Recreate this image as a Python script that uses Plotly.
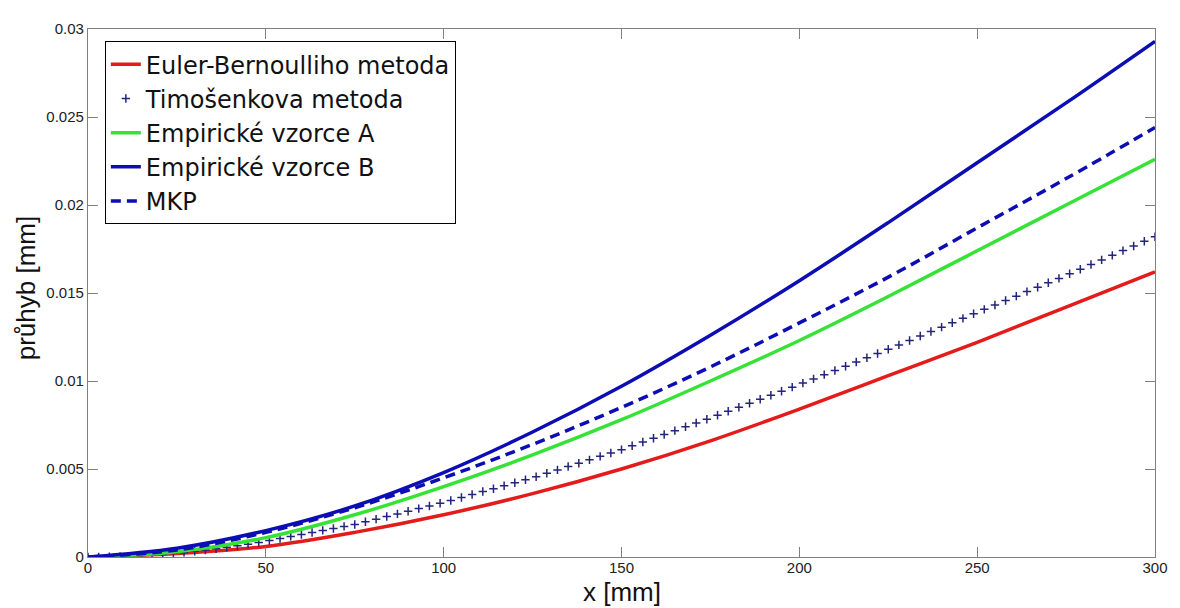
import plotly.graph_objects as go

# x positions (mm) for the line series
x_mm = [0, 25, 50, 75, 100, 125, 150, 175, 200, 225, 250, 275, 300]

euler = [0, 0.0002, 0.0006, 0.0014, 0.0024, 0.0036, 0.0050, 0.0066, 0.0084, 0.0103, 0.0122, 0.0142, 0.0162]
emp_a = [0, 0.0003, 0.0011, 0.0024, 0.0040, 0.0058, 0.0078, 0.0100, 0.0123, 0.0148, 0.0174, 0.0200, 0.0226]
emp_b = [0, 0.0005, 0.0015, 0.0029, 0.0048, 0.0071, 0.0097, 0.0126, 0.0157, 0.0190, 0.0224, 0.0258, 0.0293]
mkp = [0, 0.0004, 0.0014, 0.0028, 0.0045, 0.0064, 0.0085, 0.0108, 0.0133, 0.0159, 0.0187, 0.0215, 0.0244]

# Timošenko markers every 3 mm
timo_x = list(range(0, 301, 3))
timo = [
    0.0, 0.000003, 0.000013, 0.000029, 0.000052, 0.000081, 0.000117, 0.000159, 0.000207, 0.000262,
    0.000324, 0.000392, 0.000467, 0.000548, 0.000635, 0.000729, 0.000829, 0.00094, 0.00105, 0.00117,
    0.00128, 0.00139, 0.00151, 0.00162, 0.00174, 0.00185, 0.00200, 0.00215, 0.00230, 0.00245,
    0.00260, 0.00275, 0.00290, 0.00305, 0.00321, 0.00338, 0.00355, 0.00372, 0.00388, 0.00405,
    0.00422, 0.00439, 0.00456, 0.00476, 0.00495, 0.00514, 0.00533, 0.00552, 0.00572, 0.00591,
    0.0061, 0.00632, 0.00653, 0.00675, 0.00696, 0.00718, 0.00740, 0.00761, 0.00783, 0.00805,
    0.00828, 0.00851, 0.00874, 0.00896, 0.00919, 0.00942, 0.00965, 0.00988, 0.01012, 0.01036,
    0.0106, 0.01084, 0.01108, 0.01132, 0.01156, 0.0118, 0.01205, 0.0123, 0.01256, 0.01281,
    0.01306, 0.01331, 0.01356, 0.01382, 0.01407, 0.01432, 0.01457, 0.01482, 0.01508, 0.01533,
    0.01558, 0.01583, 0.01609, 0.01635, 0.01662, 0.01688, 0.01714, 0.01741, 0.01767, 0.01794,
    0.0182,
]

x_ticks = [0, 50, 100, 150, 200, 250, 300]
y_ticks = [0, 0.005, 0.01, 0.015, 0.02, 0.025, 0.03]
y_tick_text = ["0", "0.005", "0.01", "0.015", "0.02", "0.025", "0.03"]

RED = "#e31b1b"
GREEN = "#36e236"
BLUE = "#0d0db4"
NAVY = "#24247c"
FONT = "Arial, Liberation Sans, sans-serif"
LEGEND_FONT = "DejaVu Sans, Arial, sans-serif"

fig = go.Figure()
fig.add_trace(go.Scatter(x=x_mm, y=euler, mode="lines", name="Euler-Bernoulliho metoda",
                         line=dict(color=RED, width=3.5, shape="spline")))
fig.add_trace(go.Scatter(x=timo_x, y=timo, mode="markers", name="Timošenkova metoda",
                         marker=dict(symbol="cross-thin", size=6, color=NAVY,
                                     line=dict(color=NAVY, width=1.5))))
fig.add_trace(go.Scatter(x=x_mm, y=emp_a, mode="lines", name="Empirické vzorce A",
                         line=dict(color=GREEN, width=3.5, shape="spline")))
fig.add_trace(go.Scatter(x=x_mm, y=emp_b, mode="lines", name="Empirické vzorce B",
                         line=dict(color=BLUE, width=3.5, shape="spline")))
fig.add_trace(go.Scatter(x=x_mm, y=mkp, mode="lines", name="MKP",
                         line=dict(color=BLUE, width=3.5, dash="10px,6px", shape="spline")))

axis_common = dict(
    showline=True, linecolor="#808080", linewidth=1.2, mirror="allticks",
    ticks="inside", ticklen=10, tickcolor="#808080", tickwidth=1,
    showgrid=False, zeroline=False,
    tickfont=dict(family=FONT, size=15, color="#222222"),
)

fig.update_xaxes(range=[0, 300], tickvals=x_ticks, ticktext=[str(v) for v in x_ticks],
                 ticklabelstandoff=-3, **axis_common)
fig.update_yaxes(range=[0, 0.03], tickvals=y_ticks, ticktext=y_tick_text, **axis_common)

# The page body adds an 8px offset, so the figure is sized to fit the 1180x608 window.
fig.update_layout(
    width=1172, height=600,
    margin=dict(l=80, r=17, t=12, b=51),
    paper_bgcolor="white", plot_bgcolor="white",
    showlegend=True,
    legend=dict(x=0.0158, y=0.977, xanchor="left", yanchor="top",
                bgcolor="white", bordercolor="#000000", borderwidth=1,
                font=dict(family=LEGEND_FONT, size=24, color="#111111"),
                tracegroupgap=0, itemwidth=30),
    annotations=[
        dict(text="x [mm]", xref="paper", yref="paper", x=0.5, y=-0.0655,
             xanchor="center", yanchor="middle", showarrow=False,
             font=dict(family=FONT, size=26, color="#111111")),
        dict(text="průhyb [mm]", xref="paper", yref="paper", x=-0.0585, y=0.51,
             xanchor="center", yanchor="middle", showarrow=False, textangle=-90,
             font=dict(family=FONT, size=26, color="#111111")),
    ],
)

fig.write_html("out.html")
